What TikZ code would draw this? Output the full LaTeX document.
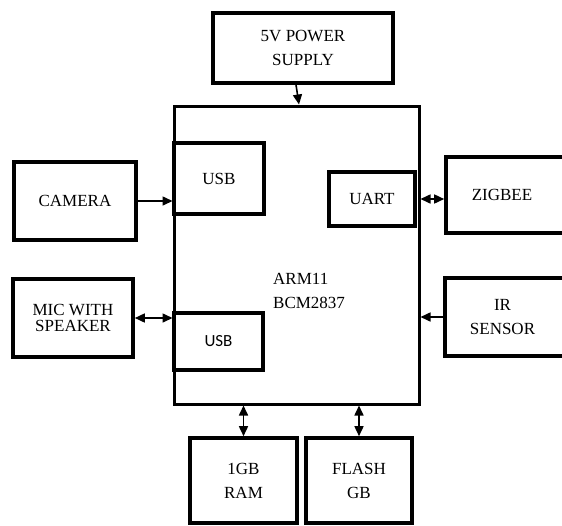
\documentclass[tikz,border=0pt]{standalone}
\usepackage{fontspec}
\setmainfont{Liberation Serif}
\newfontfamily\usbfont{Carlito}
\usetikzlibrary{arrows.meta}

\begin{document}
\begin{tikzpicture}[x=1pt,y=-1pt,>={Triangle[length=10pt,width=9pt]},
  font=\fontsize{17}{24}\selectfont,line cap=round,
  blk/.style={draw,line width=3.6pt,inner sep=0pt,align=center},
  link/.style={line width=1.6pt}]
\useasboundingbox (0,0) rectangle (562,525);
\node[blk,minimum width=180,minimum height=70] (power) at (303,48) {5V POWER\\SUPPLY};
\node[blk,line width=3pt,minimum width=245,minimum height=298] (arm) at (296.5,255) {};
\node[blk,minimum width=90,minimum height=71] (usbcam) at (219,178.5) {USB};
\node[blk,minimum width=86,minimum height=54] (uart) at (372,199) {UART};
\node[blk,minimum width=89,minimum height=57] (usbmic) at (218.5,341.5) {\usbfont USB};
\node[anchor=west,align=left,inner sep=0pt] (armlabel) at (273,291) {ARM11\\BCM2837};
\node[blk,minimum width=122,minimum height=78] (camera) at (75,201) {CAMERA};
\node[blk,minimum width=126,minimum height=76,
  label={[xshift=-7pt]center:ZIGBEE}] (zigbee) at (509,195) {};
\node[blk,minimum width=120,minimum height=78] (mic) at (73,318) {MIC WITH\\[-8pt]SPEAKER};
\node[blk,minimum width=127,minimum height=78,
  label={[xshift=-6pt,align=center]center:IR\\SENSOR}] (ir) at (508.5,317) {};
\node[blk,minimum width=107,minimum height=85] (ram) at (243.5,480.5) {1GB\\RAM};
\node[blk,minimum width=106,minimum height=85] (flash) at (359,480.5) {FLASH\\GB};
\draw[link,->] ([xshift=-7pt]power.south) -- ([xshift=2.5pt]arm.north);
\draw[link,->] (camera.east) -- (camera.east -| arm.west);
\draw[link,<->] (uart.east -| arm.east) -- (uart.east -| zigbee.west);
\draw[link,<->] (mic.east) -- (mic.east -| arm.west);
\draw[link,->] (ir.west) -- (ir.west -| arm.east);
\draw[link,<->] (ram.north) -- (ram.north |- arm.south);
\draw[link,<->] (flash.north) -- (flash.north |- arm.south);
\end{tikzpicture}
\end{document}
